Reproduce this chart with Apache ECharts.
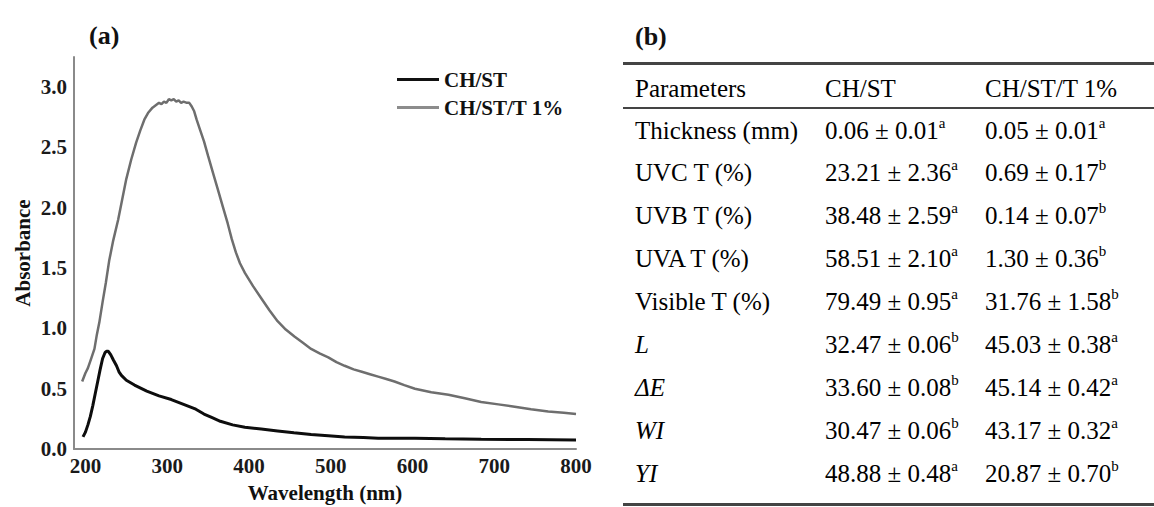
<!DOCTYPE html>
<html>
<head>
<meta charset="utf-8">
<script src="https://cdn.jsdelivr.net/npm/echarts@6.0.0/dist/echarts.min.js"></script>
<style>
  html, body { margin: 0; padding: 0; background: #fff; }
  #chart { width: 1154px; height: 507px; }
</style>
</head>
<body>
<div id="chart"></div>
<script>
// ---- Panel (a): UV-Vis absorbance spectra ----
const seriesNames = ['CH/ST', 'CH/ST/T 1%'];
const xTickValues = [200, 300, 400, 500, 600, 700, 800];
const yTickValues = [0, 0.5, 1.0, 1.5, 2.0, 2.5, 3.0];

const chstWavelength = [197, 200, 203, 206, 209, 212, 215, 218, 221, 224, 226, 228, 231, 234, 238, 241, 244, 250, 260, 275, 290, 305, 320, 335, 345, 355, 365, 380, 395, 415, 435, 455, 476, 497, 517, 540, 558, 580, 603, 640, 684, 740, 800];
const chstAbsorbance = [0.10, 0.14, 0.20, 0.27, 0.36, 0.46, 0.56, 0.66, 0.75, 0.80, 0.81, 0.81, 0.78, 0.74, 0.69, 0.64, 0.61, 0.57, 0.53, 0.48, 0.44, 0.41, 0.37, 0.33, 0.29, 0.26, 0.23, 0.20, 0.18, 0.165, 0.15, 0.135, 0.12, 0.11, 0.10, 0.095, 0.09, 0.09, 0.09, 0.085, 0.08, 0.078, 0.075];

const chstTWavelength = [196, 200, 203, 207, 211, 214, 217, 221, 225, 229, 234, 240, 245, 250, 256, 262, 267, 272, 277, 282, 286, 290, 293, 296, 299, 302, 305, 308, 311, 314, 317, 320, 324, 327, 330, 333, 336, 340, 345, 350, 356, 362, 368, 374, 379, 384, 389, 395, 405, 415, 425, 435, 445, 456, 466, 476, 487, 497, 507, 517, 528, 538, 548, 558, 568, 578, 590, 603, 623, 644, 664, 684, 705, 725, 745, 766, 785, 800];
const chstTAbsorbance = [0.56, 0.63, 0.67, 0.75, 0.83, 0.95, 1.05, 1.22, 1.38, 1.56, 1.73, 1.90, 2.07, 2.24, 2.40, 2.54, 2.64, 2.73, 2.79, 2.83, 2.85, 2.87, 2.86, 2.88, 2.87, 2.90, 2.89, 2.90, 2.88, 2.89, 2.87, 2.88, 2.87, 2.87, 2.84, 2.80, 2.73, 2.65, 2.55, 2.43, 2.29, 2.15, 2.01, 1.87, 1.74, 1.63, 1.54, 1.46, 1.35, 1.25, 1.15, 1.06, 0.99, 0.93, 0.88, 0.83, 0.79, 0.76, 0.72, 0.69, 0.66, 0.64, 0.62, 0.60, 0.58, 0.56, 0.53, 0.50, 0.47, 0.45, 0.42, 0.39, 0.37, 0.35, 0.33, 0.31, 0.30, 0.29];

// ---- Panel (b): table ----
const tableHeaders = ['Parameters', 'CH/ST', 'CH/ST/T 1%'];
const tableParams = ['Thickness (mm)', 'UVC T (%)', 'UVB T (%)', 'UVA T (%)', 'Visible T (%)', 'L', 'ΔE', 'WI', 'YI'];
const tableParamItalic = [false, false, false, false, false, true, true, true, true];
const chstValues = ['0.06 ± 0.01', '23.21 ± 2.36', '38.48 ± 2.59', '58.51 ± 2.10', '79.49 ± 0.95', '32.47 ± 0.06', '33.60 ± 0.08', '30.47 ± 0.06', '48.88 ± 0.48'];
const chstLetters = ['a', 'a', 'a', 'a', 'a', 'b', 'b', 'b', 'a'];
const chstTValues = ['0.05 ± 0.01', '0.69 ± 0.17', '0.14 ± 0.07', '1.30 ± 0.36', '31.76 ± 1.58', '45.03 ± 0.38', '45.14 ± 0.42', '43.17 ± 0.32', '20.87 ± 0.70'];
const chstTLetters = ['a', 'b', 'b', 'b', 'b', 'a', 'a', 'a', 'b'];

const SERIF = '"Liberation Serif", "Times New Roman", serif';
const zip = (xs, ys) => xs.map((x, i) => [x, ys[i]]);

const chart = echarts.init(document.getElementById('chart'), null, { renderer: 'svg', width: 1154, height: 507 });

const cellRich = {
  v: { fontFamily: SERIF, fontSize: 25, color: '#1a1a1a', lineHeight: 30 },
  i: { fontFamily: SERIF, fontSize: 25, color: '#1a1a1a', lineHeight: 30, fontStyle: 'italic' },
  s: { fontFamily: SERIF, fontSize: 15, color: '#1a1a1a', lineHeight: 19, verticalAlign: 'top' }
};

const colX = [635, 825, 985];
const headerY = 88;
const rowY0 = 130, rowStep = 42.9;

const graphics = [
  { type: 'text', x: 89, y: 35, style: { text: '(a)', fontFamily: SERIF, fontSize: 26, fontWeight: 'bold', fill: '#111', verticalAlign: 'middle' } },
  { type: 'text', x: 635, y: 36, style: { text: '(b)', fontFamily: SERIF, fontSize: 26, fontWeight: 'bold', fill: '#111', verticalAlign: 'middle' } },
  { type: 'rect', shape: { x: 623, y: 62, width: 531, height: 3 }, style: { fill: '#444' } },
  { type: 'rect', shape: { x: 623, y: 107, width: 531, height: 2 }, style: { fill: '#444' } },
  { type: 'rect', shape: { x: 623, y: 503, width: 531, height: 3 }, style: { fill: '#444' } }
];
tableHeaders.forEach((h, c) => {
  graphics.push({ type: 'text', x: colX[c], y: headerY, style: { text: '{v|' + h + '}', rich: cellRich, verticalAlign: 'middle' } });
});
tableParams.forEach((p, r) => {
  const y = rowY0 + r * rowStep;
  graphics.push({ type: 'text', x: colX[0], y: y, style: { text: (tableParamItalic[r] ? '{i|' : '{v|') + p + '}', rich: cellRich, verticalAlign: 'middle' } });
  graphics.push({ type: 'text', x: colX[1], y: y, style: { text: '{v|' + chstValues[r] + '}{s|' + chstLetters[r] + '}', rich: cellRich, verticalAlign: 'middle' } });
  graphics.push({ type: 'text', x: colX[2], y: y, style: { text: '{v|' + chstTValues[r] + '}{s|' + chstTLetters[r] + '}', rich: cellRich, verticalAlign: 'middle' } });
});

const option = {
  backgroundColor: '#fff',
  animation: false,
  grid: { left: 74, right: 578, top: 57, bottom: 58, containLabel: false, outerBoundsMode: 'none' },
  legend: {
    orient: 'vertical', left: 392, top: 64,
    itemWidth: 42, itemHeight: 3, itemGap: 7, itemTextGap: 4,
    textStyle: { fontFamily: SERIF, fontSize: 21, fontWeight: 'bold', color: '#111', lineHeight: 21 },
    data: [
      { name: seriesNames[0], icon: 'rect', itemStyle: { color: '#111' } },
      { name: seriesNames[1], icon: 'rect', itemStyle: { color: '#8c8c8c' } }
    ]
  },
  xAxis: {
    type: 'value', min: 186, max: 800,
    name: 'Wavelength (nm)', nameLocation: 'middle', nameGap: 33,
    nameTextStyle: { fontFamily: SERIF, fontSize: 21, fontWeight: 'bold', color: '#111' },
    axisLine: { show: true, lineStyle: { color: '#8a8a8a', width: 2 } },
    axisTick: { show: false },
    splitLine: { show: false },
    axisLabel: { customValues: xTickValues, margin: 6, fontFamily: SERIF, fontSize: 21, fontWeight: 'bold', color: '#1a1a1a' }
  },
  yAxis: {
    type: 'value', min: 0, max: 3.25,
    name: 'Absorbance', nameLocation: 'middle', nameGap: 41, nameRotate: 90,
    nameTextStyle: { fontFamily: SERIF, fontSize: 21, fontWeight: 'bold', color: '#111' },
    axisLine: { show: true, lineStyle: { color: '#8a8a8a', width: 2 } },
    axisTick: { show: false },
    splitLine: { show: false },
    axisLabel: { customValues: yTickValues, margin: 7, fontFamily: SERIF, fontSize: 21, fontWeight: 'bold', color: '#1a1a1a', formatter: v => v.toFixed(1) }
  },
  series: [
    { name: seriesNames[0], type: 'line', symbol: 'none', data: zip(chstWavelength, chstAbsorbance), lineStyle: { color: '#0d0d0d', width: 3 }, itemStyle: { color: '#0d0d0d' }, z: 3 },
    { name: seriesNames[1], type: 'line', symbol: 'none', data: zip(chstTWavelength, chstTAbsorbance), lineStyle: { color: '#6e6e6e', width: 2.5 }, itemStyle: { color: '#6e6e6e' }, z: 2 }
  ],
  graphic: graphics
};
chart.setOption(option);
</script>
</body>
</html>
